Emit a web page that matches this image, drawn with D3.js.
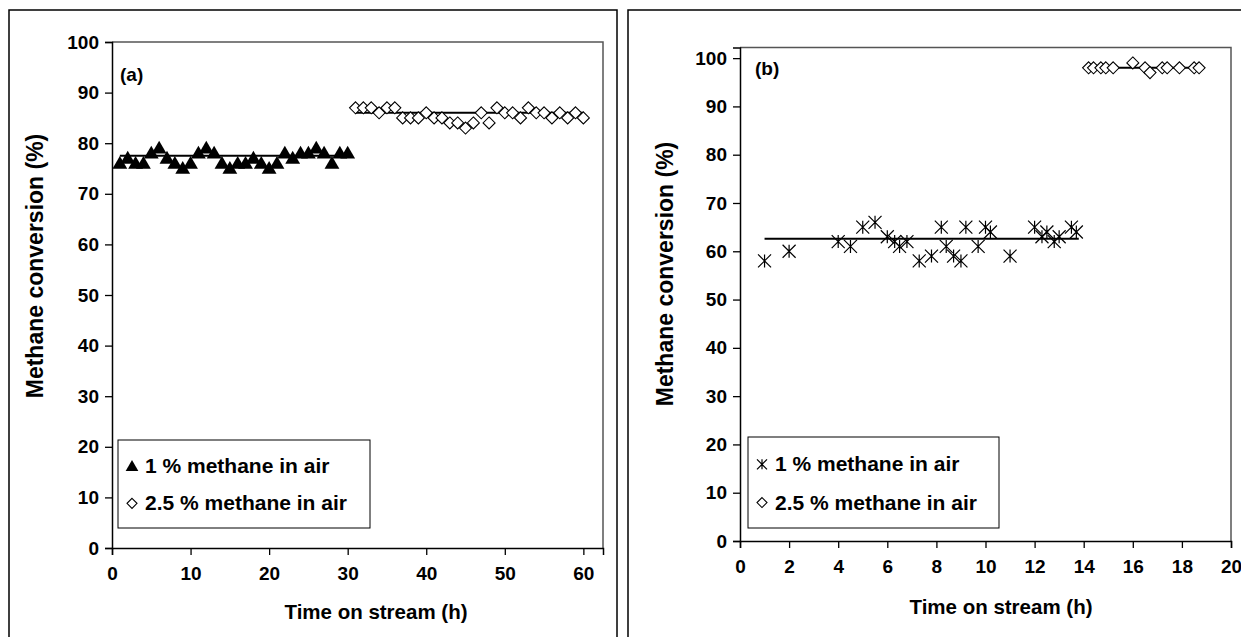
<!DOCTYPE html>
<html>
<head>
<meta charset="utf-8">
<script src="https://cdn.jsdelivr.net/npm/d3@7"></script>
<style>
  body { margin: 0; background: #fff; }
  svg { display: block; }
  text { font-family: Arial, "Liberation Sans", sans-serif; font-weight: bold; fill: #000; }
</style>
</head>
<body>
<script>
// panel (a): time on stream (h) vs conversion (%)
var aTime1 = [1,2,3,4,5,6,7,8,9,10,11,12,13,14,15,16,17,18,19,20,21,22,23,24,25,26,27,28,29,30];
var aConv1 = [76,77,76,76,78,79,77,76,75,76,78,79,78,76,75,76,76,77,76,75,76,78,77,78,78,79,78,76,78,78];
var aTime2 = [31,32,33,34,35,36,37,38,39,40,41,42,43,44,45,46,47,48,49,50,51,52,53,54,55,56,57,58,59,60];
var aConv2 = [87,87,87,86,87,87,85,85,85,86,85,85,84,84,83,84,86,84,87,86,86,85,87,86,86,85,86,85,86,85];
var aMean1 = [1, 30, 77.5];
var aMean2 = [31, 60, 86];

// panel (b)
var bTime1 = [1,2,4,4.5,5,5.5,6,6.3,6.5,6.8,7.3,7.8,8.2,8.4,8.7,9,9.2,9.7,10,10.2,11,12,12.3,12.5,12.8,13,13.5,13.7];
var bConv1 = [58,60,62,61,65,66,63,62,61,62,58,59,65,61,59,58,65,61,65,64,59,65,63,64,62,63,65,64];
var bTime2 = [14.2,14.4,14.7,14.9,15.2,16,16.5,16.7,17.2,17.4,17.9,18.5,18.7];
var bConv2 = [98,98,98,98,98,99,98,97,98,98,98,98,98];
var bMean1 = [1, 13.8, 62.6];
var bMean2 = [14.2, 18.7, 98];

var legendLabels = ["1 % methane in air", "2.5 % methane in air"];

var W = 1241, H = 637;
var svg = d3.select("body").append("svg").attr("width", W).attr("height", H);

function triangle(g, x, y, sz) {
    g.append("path").attr("d", d3.symbol().type(d3.symbolTriangle).size(sz || 95)())
        .attr("transform", "translate(" + x + "," + (y + 1) + ")").attr("fill", "#000");
}
function diamond(g, x, y, s) {
    s = s || 6;
    g.append("path").attr("d", "M0," + (-s) + "L" + s + ",0L0," + s + "L" + (-s) + ",0Z")
        .attr("transform", "translate(" + x + "," + y + ")")
        .attr("fill", "#fff").attr("stroke", "#000").attr("stroke-width", 1.1);
}
function asterisk(g, x, y, sz) {
    var r = sz ? sz / 14 : 6.5;
    var p = "M" + (-r) + "," + (-r) + "L" + r + "," + r + "M" + r + "," + (-r) + "L" + (-r) + "," + r + "M0," + (-r) + "L0," + r;
    g.append("path").attr("d", p).attr("transform", "translate(" + x + "," + y + ")")
        .attr("stroke", "#000").attr("stroke-width", 1.2).attr("fill", "none");
}

function panel(opt) {
    var g = svg.append("g");
    // outer frame
    g.append("rect").attr("x", opt.frame[0]).attr("y", opt.frame[1])
        .attr("width", opt.frame[2]).attr("height", opt.frame[3])
        .attr("fill", "none").attr("stroke", "#000").attr("stroke-width", 1.5);

    var x = d3.scaleLinear().domain(opt.xDomain).range(opt.xRange);
    var y = d3.scaleLinear().domain(opt.yDomain).range(opt.yRange);

    // plot box (top + right)
    g.append("path")
        .attr("d", "M" + x.range()[0] + "," + y.range()[1] + "H" + x.range()[1] + "V" + y.range()[0])
        .attr("fill", "none").attr("stroke", "#555").attr("stroke-width", 1.5);

    var xAx = g.append("g").attr("transform", "translate(0," + y.range()[0] + ")");
    xAx.call(d3.axisBottom(x).tickValues(opt.xMinor).tickSize(5).tickFormat(""));
    xAx.call(d3.axisBottom(x).tickValues(opt.xMajor).tickSize(7).tickFormat(d3.format("d")).tickPadding(12));
    xAx.selectAll("text").attr("font-size", 19).style("font-family", "Arial, 'Liberation Sans', sans-serif");
    xAx.selectAll(".domain").attr("stroke-width", 1.5);
    xAx.selectAll("line").attr("stroke-width", 1.3);

    var yAx = g.append("g").attr("transform", "translate(" + x.range()[0] + ",0)");
    yAx.call(d3.axisLeft(y).tickValues(opt.yMinor).tickSize(5).tickFormat(""));
    yAx.call(d3.axisLeft(y).tickValues(opt.yMajor).tickSize(7).tickFormat(d3.format("d")).tickPadding(6));
    yAx.selectAll("text").attr("font-size", 19).style("font-family", "Arial, 'Liberation Sans', sans-serif");
    yAx.selectAll(".domain").attr("stroke-width", 1.5);
    yAx.selectAll("line").attr("stroke-width", 1.3);

    // axis titles
    g.append("text").attr("x", opt.xTitle[0]).attr("y", opt.xTitle[1])
        .attr("text-anchor", "middle").attr("font-size", 20.5).text("Time on stream (h)");
    g.append("text").attr("transform", "translate(" + opt.yTitle[0] + "," + opt.yTitle[1] + ") rotate(-90)")
        .attr("text-anchor", "middle").attr("font-size", 23).text("Methane conversion (%)");

    // tag
    g.append("text").attr("x", opt.tag[1]).attr("y", opt.tag[2]).attr("font-size", 19).text(opt.tag[0]);

    // mean lines
    [opt.mean1, opt.mean2].forEach(function(m) {
        g.append("line").attr("x1", x(m[0])).attr("x2", x(m[1])).attr("y1", y(m[2])).attr("y2", y(m[2]))
            .attr("stroke", "#000").attr("stroke-width", 2);
    });

    // points
    opt.t1.forEach(function(t, i) { opt.mark1(g, x(t), y(opt.c1[i])); });
    opt.t2.forEach(function(t, i) { diamond(g, x(t), y(opt.c2[i])); });

    // legend
    var L = opt.legend;
    g.append("rect").attr("x", L[0]).attr("y", L[1]).attr("width", L[2]).attr("height", L[3])
        .attr("fill", "#fff").attr("stroke", "#000").attr("stroke-width", 1);
    var rowY = [L[1] + L[3] * 0.3, L[1] + L[3] * 0.72];
    opt.mark1(g, L[0] + 14, rowY[0], 70);
    diamond(g, L[0] + 14, rowY[1], 5);
    legendLabels.forEach(function(s, i) {
        g.append("text").attr("x", L[0] + 27).attr("y", rowY[i] + 7).attr("font-size", 21).text(s);
    });
}

panel({
    frame: [9, 10, 608, 640],
    xDomain: [0, 62.5], xRange: [112, 603],
    yDomain: [0, 100], yRange: [548, 42],
    xMajor: d3.range(0, 61, 10), xMinor: d3.range(5, 61, 10),
    yMajor: d3.range(0, 101, 10), yMinor: d3.range(5, 100, 10),
    xTitle: [376, 619], yTitle: [43, 266],
    tag: ["(a)", 120, 81],
    t1: aTime1, c1: aConv1, t2: aTime2, c2: aConv2,
    mean1: aMean1, mean2: aMean2,
    mark1: triangle,
    legend: [118, 440, 252, 88]
});

panel({
    frame: [628, 10, 620, 640],
    xDomain: [0, 20], xRange: [740, 1231],
    yDomain: [0, 102.2], yRange: [541, 47.5],
    xMajor: d3.range(0, 21, 2), xMinor: d3.range(1, 20, 2),
    yMajor: d3.range(0, 101, 10), yMinor: d3.range(5, 100, 10),
    xTitle: [1001, 614], yTitle: [673, 274],
    tag: ["(b)", 755, 75],
    t1: bTime1, c1: bConv1, t2: bTime2, c2: bConv2,
    mean1: bMean1, mean2: bMean2,
    mark1: asterisk,
    legend: [748, 437, 251, 91]
});
</script>
</body>
</html>
